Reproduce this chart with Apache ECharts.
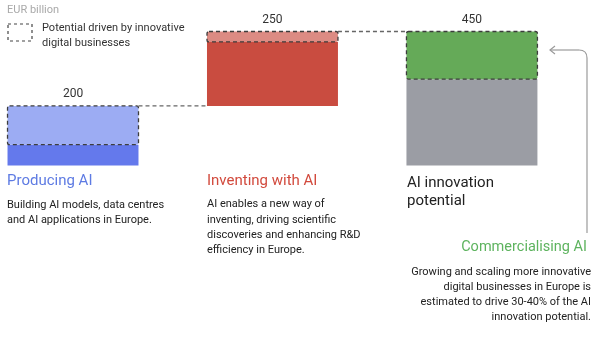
<!DOCTYPE html>
<html><head><meta charset="utf-8">
<script src="https://cdn.jsdelivr.net/npm/echarts@6/dist/echarts.min.js"></script>
<style>html,body{margin:0;padding:0;background:#fff}#c{width:600px;height:337px}</style>
</head><body><div id="c"></div>
<script>
const categories = ['Producing AI', 'Inventing with AI', 'AI innovation potential'];
const baseValues = [0, 200, 0];          // waterfall offset
const coreValues = [70, 215, 290];       // solid part
const digitalValues = [130, 35, 160];    // potential driven by innovative digital businesses
const valueLabels = ['200', '250', '450'];

const solidColors = ['#6479EC', '#C94C40', '#9B9DA4'];
const lightColors = ['#9CACF3', '#DC8B83', '#65AA58'];

const chart = echarts.init(document.getElementById('c'));
const FONT = 'Roboto, "Noto Sans", sans-serif';
const BW = 0.6566; // bar width in category units
const idx = categories.map((c, i) => i);

// rows: [index, start, end, kind(0 solid,1 dashed)]
const segRows = [];
idx.forEach(i => {
  segRows.push([i, baseValues[i], baseValues[i] + coreValues[i], 0]);
  segRows.push([i, baseValues[i] + coreValues[i], baseValues[i] + coreValues[i] + digitalValues[i], 1]);
});
const tops = idx.map(i => baseValues[i] + coreValues[i] + digitalValues[i]);

chart.setOption({
  animation: false,
  grid: { left: 0, right: 0, top: 31.5, height: 134 },
  xAxis: { type: 'value', min: -0.366, max: 2.642, show: false },
  yAxis: { type: 'value', min: 0, max: 450, show: false },
  series: [
    { type: 'custom', silent: true, data: segRows,
      renderItem: (params, api) => {
        const i = api.value(0), s = api.value(1), e = api.value(2), k = api.value(3);
        const p0 = api.coord([i - BW / 2, s]);
        const p1 = api.coord([i + BW / 2, e]);
        const rect = { x: p0[0], y: p1[1], width: p1[0] - p0[0], height: p0[1] - p1[1] };
        if (k === 0) {
          return { type: 'rect', shape: rect, style: { fill: solidColors[i] } };
        }
        return { type: 'rect', shape: Object.assign({ r: 2 }, rect),
          style: { fill: lightColors[i], stroke: '#3d3d3d', lineWidth: 1.3, lineDash: [4, 3] } };
      } },
    { type: 'custom', silent: true, data: idx.map(i => [i, tops[i]]),
      renderItem: (params, api) => {
        const i = api.value(0), v = api.value(1);
        const p = api.coord([i, v]);
        return { type: 'text', x: p[0], y: p[1] - 6,
          style: { text: valueLabels[i], fill: '#333', fontSize: 12, fontFamily: FONT, align: 'center', verticalAlign: 'bottom' } };
      } },
    { type: 'custom', silent: true,
      data: [0, 1].map(i => [i, tops[i]]),
      renderItem: (params, api) => {
        const i = api.value(0), v = api.value(1);
        const p1 = api.coord([i + BW / 2, v]);
        const p2 = api.coord([i + 1 - BW / 2, v]);
        return { type: 'line', shape: { x1: p1[0], y1: p1[1], x2: p2[0], y2: p2[1] },
          style: { stroke: '#666', lineWidth: 1.3, lineDash: [4, 3] } };
      } }
  ],
  graphic: [
    { type: 'text', left: 7, top: 5, style: { text: 'EUR billion', fill: '#a9a9a9', fontSize: 11, fontFamily: FONT } },
    { type: 'rect', shape: { x: 8, y: 24, width: 24, height: 17 }, style: { fill: 'none', stroke: '#444', lineWidth: 1.2, lineDash: [3, 3] } },
    { type: 'text', left: 42, top: 21, style: { text: 'Potential driven by innovative\ndigital businesses', fill: '#333', fontSize: 11, lineHeight: 15, fontFamily: FONT } },

    { type: 'text', left: 7, top: 174, style: { text: 'Producing AI', fill: '#5E7BE3', fontSize: 15, fontFamily: FONT } },
    { type: 'text', left: 7, top: 197, style: { text: 'Building AI models, data centres\nand AI applications in Europe.', fill: '#222', fontSize: 11, lineHeight: 15.5, fontFamily: FONT } },

    { type: 'text', left: 207, top: 174, style: { text: 'Inventing with AI', fill: '#D24A3D', fontSize: 15, fontFamily: FONT } },
    { type: 'text', left: 207, top: 197, style: { text: 'AI enables a new way of\ninventing, driving scientific\ndiscoveries and enhancing R&D\nefficiency in Europe.', fill: '#222', fontSize: 11, lineHeight: 15.2, fontFamily: FONT } },

    { type: 'text', left: 407, top: 174, style: { text: 'AI innovation\npotential', fill: '#222', fontSize: 15, lineHeight: 18, fontFamily: FONT } },

    { type: 'text', x: 587, y: 240, style: { text: 'Commercialising AI', fill: '#5DB35E', fontSize: 14.5, fontFamily: FONT, align: 'right', textAlign: 'right', verticalAlign: 'top' } },
    { type: 'text', x: 591, y: 265, style: { text: 'Growing and scaling more innovative\ndigital businesses in Europe is\nestimated to drive 30-40% of the AI\ninnovation potential.', fill: '#222', fontSize: 11, lineHeight: 15, fontFamily: FONT, align: 'right', textAlign: 'right', verticalAlign: 'top' } },

    { type: 'polyline', shape: { points: [[587, 233], [587, 58]] }, style: { fill: 'none', stroke: '#9a9a9a', lineWidth: 1.2 } },
    { type: 'bezierCurve', shape: { x1: 587, y1: 58, cpx1: 587, cpy1: 50, x2: 579, y2: 50 }, style: { fill: 'none', stroke: '#9a9a9a', lineWidth: 1.2 } },
    { type: 'polyline', shape: { points: [[579, 50], [550, 50]] }, style: { fill: 'none', stroke: '#9a9a9a', lineWidth: 1.2 } },
    { type: 'polyline', shape: { points: [[555, 46], [550, 50], [555, 54]] }, style: { fill: 'none', stroke: '#9a9a9a', lineWidth: 1.2 } }
  ]
});
</script></body></html>
